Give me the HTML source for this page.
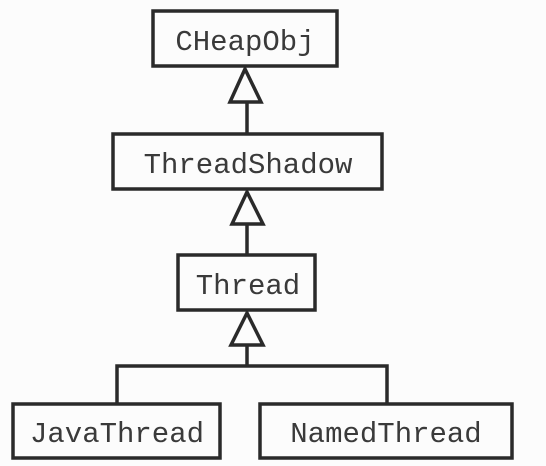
<!DOCTYPE html>
<html><head><style>
html,body{margin:0;padding:0;background:#fcfcfc;}
svg{display:block}
text{font-family:"Liberation Mono",monospace;font-size:29px;fill:#3a3a3a;text-anchor:middle;}
</style></head><body>
<svg width="546" height="466" viewBox="0 0 546 466">
<g fill="none" stroke="#2a2a2a" stroke-width="3.5">
<rect x="153" y="11" width="184" height="55"/>
<rect x="113" y="134" width="269" height="55"/>
<rect x="178" y="255" width="137" height="55"/>
<rect x="13" y="404" width="207" height="54"/>
<rect x="260" y="404" width="252" height="54"/>
<line x1="247" y1="102" x2="247" y2="134"/>
<line x1="247" y1="224" x2="247" y2="255"/>
<line x1="247" y1="345" x2="247" y2="366"/>
<polyline points="117,404 117,366 387,366 387,404"/>
<polygon points="245,69 230,102 261,102" fill="#fcfcfc"/>
<polygon points="247,192 232,224 263,224" fill="#fcfcfc"/>
<polygon points="247,313 231,345 263,345" fill="#fcfcfc"/>
</g>
<text x="245" y="50">CHeapObj</text>
<text x="248" y="173">ThreadShadow</text>
<text x="248" y="294">Thread</text>
<text x="117" y="442">JavaThread</text>
<text x="386" y="442">NamedThread</text>
</svg>
</body></html>
